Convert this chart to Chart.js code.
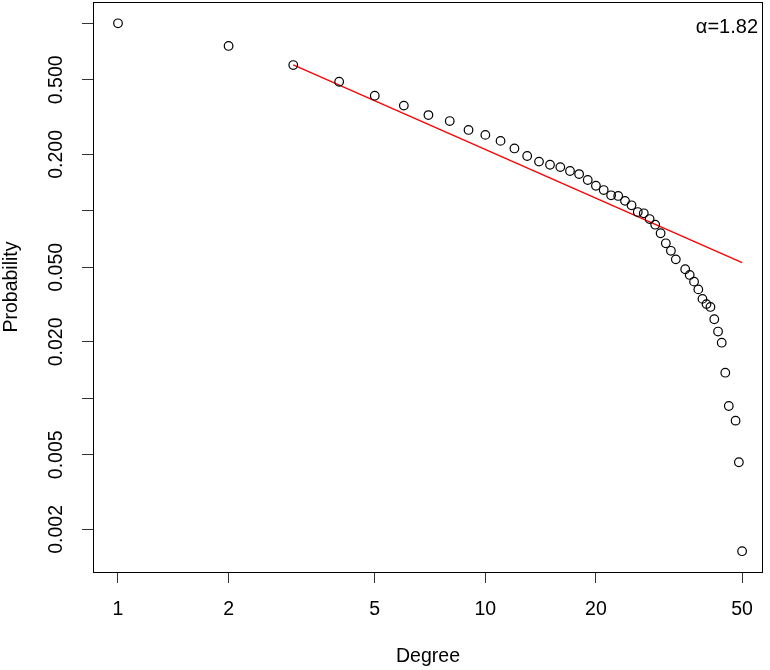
<!DOCTYPE html>
<html>
<head>
<meta charset="utf-8">
<script src="https://cdn.jsdelivr.net/npm/chart.js@4.4.1/dist/chart.umd.min.js"></script>
<style>
  html, body { margin: 0; padding: 0; background: #fff; }
  canvas { display: block; }
</style>
</head>
<body>
<canvas id="chart" width="770" height="670"></canvas>
<script>
// degree distribution (complementary cumulative)
const degrees = [1, 2, 3, 4, 5, 6, 7, 8, 9, 10, 11, 12, 13, 14, 15, 16, 17, 18, 19, 20,
  21, 22, 23, 24, 25, 26, 27, 28, 29, 30, 31, 32, 33, 35, 36, 37, 38, 39, 40, 41,
  42, 43, 44, 45, 46, 48, 49, 50];
const probabilities = [1.0, 0.757, 0.599, 0.488, 0.411, 0.364, 0.324, 0.301, 0.270, 0.254,
  0.236, 0.215, 0.196, 0.183, 0.176, 0.171, 0.163, 0.157, 0.146, 0.136,
  0.129, 0.121, 0.120, 0.113, 0.107, 0.0985, 0.097, 0.0904, 0.0843, 0.0759,
  0.0671, 0.0612, 0.0551, 0.0488, 0.0455, 0.0419, 0.0381, 0.0339, 0.0318, 0.0307,
  0.0264, 0.0227, 0.0198, 0.0137, 0.0091, 0.0076, 0.00456, 0.00153];

// fitted power law, end points
const fitDegrees = [3, 50];
const fitProbabilities = [0.6, 0.0529];
const alphaLabel = 'α=1.82';

const xTicks = [1, 2, 5, 10, 20, 50];
const yTicks = [1, 0.5, 0.2, 0.1, 0.05, 0.02, 0.01, 0.005, 0.002];
const yTickLabels = ['', '0.500', '0.200', '', '0.050', '0.020', '', '0.005', '0.002'];

const FONT = '"Liberation Sans", Arial, sans-serif';
Chart.defaults.font.family = FONT;
Chart.defaults.font.size = 19.5;
Chart.defaults.color = '#000';

const noPad = s => { s.paddingLeft = 0; s.paddingRight = 0; s.paddingTop = 0; s.paddingBottom = 0; };

// R-style box around the plot region plus the alpha note
const frame = {
  id: 'frame',
  afterDraw(chart) {
    const { ctx, chartArea: a } = chart;
    ctx.save();
    ctx.strokeStyle = '#000';
    ctx.lineWidth = 1;
    ctx.strokeRect(a.left + 0.5, a.top + 0.5, a.right - a.left - 1, a.bottom - a.top);
    ctx.fillStyle = '#000';
    ctx.font = '20px ' + FONT;
    ctx.textAlign = 'right';
    ctx.textBaseline = 'middle';
    ctx.fillText(alphaLabel, a.right - 5, a.top + 25);
    ctx.restore();
  }
};

new Chart(document.getElementById('chart'), {
  type: 'scatter',
  data: {
    datasets: [{
      data: degrees.map((d, i) => ({ x: d, y: probabilities[i] })),
      pointStyle: 'circle',
      pointRadius: 4.3,
      pointBorderWidth: 1.2,
      pointBorderColor: '#000',
      pointBackgroundColor: 'rgba(0,0,0,0)',
      showLine: false
    }, {
      data: fitDegrees.map((d, i) => ({ x: d, y: fitProbabilities[i] })),
      showLine: true,
      borderColor: '#ff0000',
      borderWidth: 1.3,
      pointRadius: 0
    }]
  },
  options: {
    responsive: false,
    devicePixelRatio: 1,
    animation: false,
    layout: { autoPadding: false, padding: { top: 2, right: 7, left: 0, bottom: 0 } },
    plugins: { legend: { display: false }, tooltip: { enabled: false } },
    scales: {
      x: {
        type: 'logarithmic',
        min: 0.855,
        max: 57.0,
        bounds: 'data',
        afterBuildTicks: s => { s.ticks = xTicks.map(v => ({ value: v })); },
        afterFit: s => { s.height = 98; noPad(s); },
        ticks: {
          autoSkip: false,
          maxRotation: 0,
          padding: 15,
          callback: v => String(v)
        },
        grid: { drawOnChartArea: false, tickLength: 11, tickColor: '#333' },
        border: { display: false },
        title: { display: true, text: 'Degree', padding: { top: 0, bottom: 2 } }
      },
      y: {
        type: 'logarithmic',
        min: 0.001185,
        max: 1.299,
        bounds: 'data',
        afterBuildTicks: s => { s.ticks = yTicks.map(v => ({ value: v })); },
        afterFit: s => { s.width = 93; noPad(s); },
        ticks: {
          autoSkip: false,
          minRotation: 90,
          maxRotation: 90,
          crossAlign: 'center',
          padding: 1,
          callback: (v, i) => yTickLabels[i]
        },
        grid: { drawOnChartArea: false, tickLength: 11, tickColor: '#333' },
        border: { display: false },
        title: { display: true, text: 'Probability', padding: { top: 0, bottom: 0 } }
      }
    }
  },
  plugins: [frame]
});
</script>
</body>
</html>
